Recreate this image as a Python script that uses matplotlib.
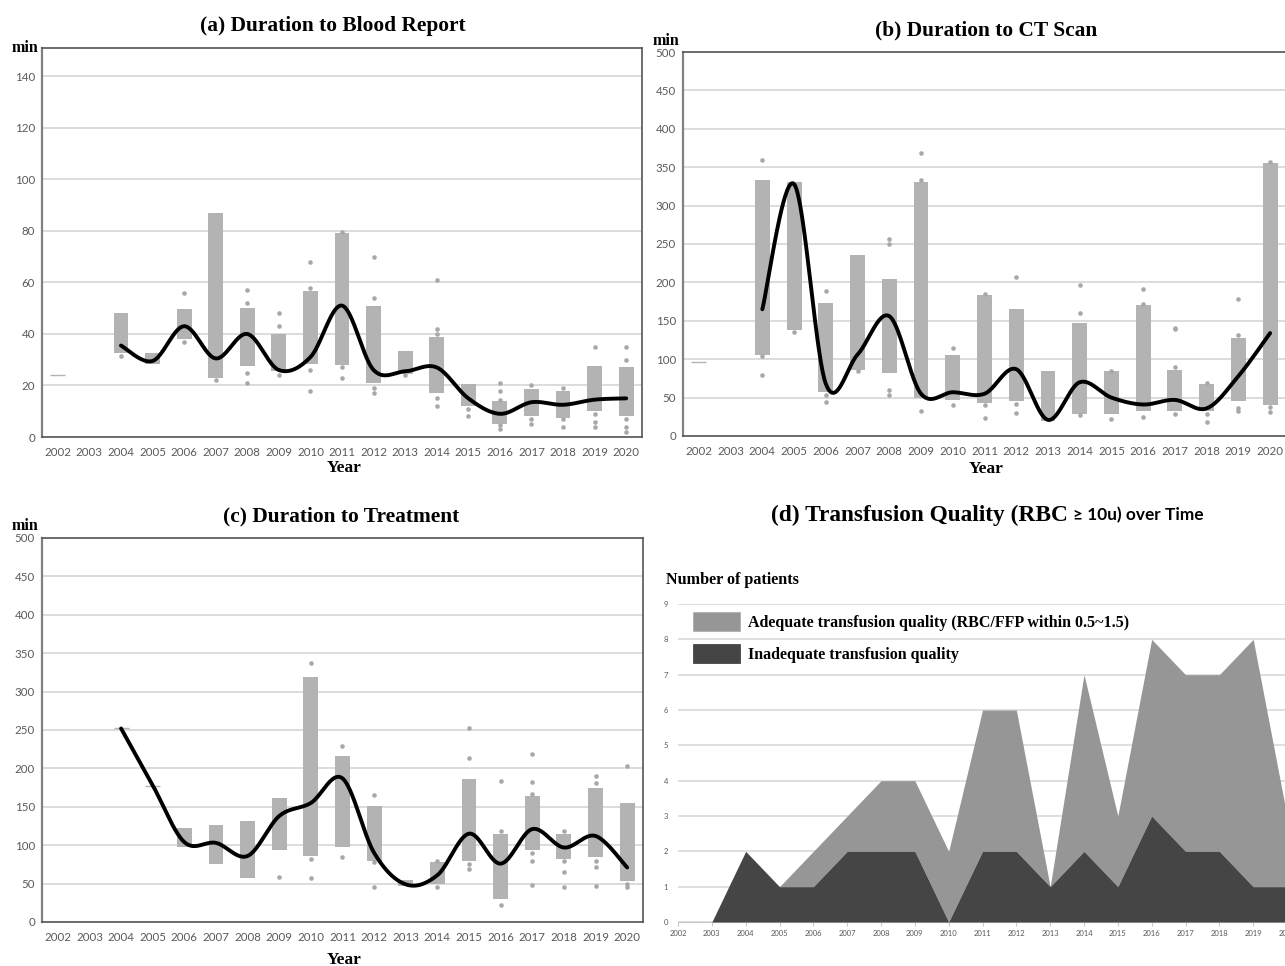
import numpy as np
import matplotlib
matplotlib.use("Agg")
import matplotlib.pyplot as plt
from matplotlib.patches import Patch

W, H = 1285, 966
SERIF = "Liberation Serif"
SANS = "Lato"
BOX = "#b3b3b3"
DOT = "#a8a8a8"
GRID = "#d9d9d9"
TICK = "#595959"

years = list(range(2002, 2021))
line_years = list(range(2004, 2021))

# (a) Duration to Blood Report
a_q1 = [24, None, 32.5, 28.5, 38, 23, 27.5, 25.5, 28.5, 28, 21, 24.5, 17, 12, 5, 8, 7.5, 10, 8]
a_q3 = [24, None, 48, 32.5, 49.5, 87, 50, 40, 56.5, 79, 51, 33.5, 39, 20.5, 14, 18.5, 18, 27.5, 27]
a_out = [[], [], [31.5], [], [56, 37], [22], [57, 52, 25, 21], [48, 43, 24], [68, 58, 26, 18],
         [79.5, 27, 23], [70, 54, 19, 17], [24], [61, 42, 40, 15, 12], [11, 8],
         [21, 18, 14.5, 4.5, 3], [20, 7, 5], [19, 7, 4], [35, 9, 6, 4], [35, 30, 7, 4, 2]]
a_line = [35.5, 29.5, 43, 30.5, 40, 26, 31, 51, 26, 25.5, 27, 15, 9, 13.5, 12.5, 14.5, 15]

# (b) Duration to CT Scan
b_q1 = [96, None, 106, 138, 57, 86, 82, 50, 47, 43, 45, 20, 28, 28, 32, 33, 33, 45, 40]
b_q3 = [96, None, 333, 331, 173, 236, 205, 331, 106, 184, 166, 85, 147, 84, 170, 86, 68, 128, 355]
b_out = [[], [], [360, 104, 80], [136], [189, 54, 44], [85], [256, 250, 60, 53], [368, 333, 32],
         [115, 40], [185, 40, 24], [207, 42, 30], [], [196, 160, 27], [85, 22], [191, 172, 25],
         [140, 139, 90, 28], [69, 29, 18], [179, 131, 37, 32], [357, 38, 31]]
b_line = [165, 328, 68, 106, 156, 55, 57, 55, 87, 21, 70, 50, 41, 47, 36, 78, 134]

# (c) Duration to Treatment
c_q1 = [None, None, 252, 177, 98, 75, 57, 94, 86, 98, 80, 47, 50, 80, 30, 94, 82, 84, 54]
c_q3 = [None, None, 252, 177, 122, 126, 131, 161, 319, 216, 151, 55, 78, 186, 115, 164, 115, 175, 155]
c_out = [[], [], [], [], [], [], [], [58], [337, 82, 57], [229, 85], [166, 78, 45], [],
         [79, 45], [252, 213, 75, 69], [184, 119, 22], [219, 182, 167, 90, 80, 48],
         [119, 80, 65, 46], [190, 181, 80, 72, 47], [203, 50, 45]]
c_line = [252, 178, 104, 103, 86, 138, 155, 187, 90, 49, 61, 115, 76, 121, 97, 112, 71]

# (d) Transfusion quality
inadequate = [np.nan, 0, 2, 1, 1, 2, 2, 2, 0, 2, 2, 1, 2, 1, 3, 2, 2, 1, 1]
adequate = [np.nan, 0, 0, 0, 1, 1, 2, 2, 2, 4, 4, 0, 5, 2, 5, 5, 5, 7, 2]


def smooth(xs, ys, n=40):
    # bezier smoothing through the points, like a spreadsheet "smoothed line"
    pts = np.column_stack([xs, ys]).astype(float)
    segs = []
    for i in range(len(pts) - 1):
        p0 = pts[max(i - 1, 0)]
        p1 = pts[i]
        p2 = pts[i + 1]
        p3 = pts[min(i + 2, len(pts) - 1)]
        c1 = p1 + (p2 - p0) / 6
        c2 = p2 - (p3 - p1) / 6
        t = np.linspace(0, 1, n)[:, None]
        segs.append((1 - t) ** 3 * p1 + 3 * (1 - t) ** 2 * t * c1 + 3 * (1 - t) * t ** 2 * c2 + t ** 3 * p2)
    return np.vstack(segs)


def px_axes(fig, left, top, right, bottom):
    return fig.add_axes([left / W, 1 - bottom / H, (right - left) / W, (bottom - top) / H])


def box_panel(ax, q1, q3, outs, line, ymax, step):
    ax.set_xlim(2001.5, 2020.5)
    ax.set_ylim(0, ymax)
    ax.set_yticks(np.arange(0, ymax + 1, step))
    ax.set_xticks(years)
    ax.grid(axis="y", color=GRID, lw=1.3)
    ax.set_axisbelow(True)
    bw = 0.47
    for yr, lo, hi, pts in zip(years, q1, q3, outs):
        if lo is None:
            continue
        if hi - lo < 1e-9:
            ax.hlines(lo, yr - bw / 2, yr + bw / 2, color=BOX, lw=1)
        else:
            ax.bar(yr, hi - lo, bottom=lo, width=bw, color=BOX, zorder=2)
        if pts:
            ax.plot([yr] * len(pts), pts, "o", color=DOT, ms=3.3, mec="none", zorder=3)
    curve = smooth(line_years, line)
    ax.plot(curve[:, 0], curve[:, 1], color="black", lw=2.8, zorder=4, solid_capstyle="round")
    ax.tick_params(length=0, labelsize=8.3, colors=TICK, pad=7)
    ax.tick_params(axis="y", pad=5)
    for lab in ax.get_xticklabels() + ax.get_yticklabels():
        lab.set_fontfamily(SANS)
    for s in ax.spines.values():
        s.set_color("#555555")
        s.set_linewidth(1.2)
    ax.spines["left"].set_color("#808080")
    ax.spines["left"].set_linewidth(1.6)


fig = plt.figure(figsize=(W / 100, H / 100), dpi=100)
tfont = dict(family=SERIF, weight="bold")
TS = 15.4

# panel a
ax_a = px_axes(fig, 42, 48, 642, 437)
box_panel(ax_a, a_q1, a_q3, a_out, a_line, 151, 20)
ax_a.set_yticks(np.arange(0, 141, 20))
fig.text(333 / W, 1 - 26 / H, "(a) Duration to Blood Report", ha="center", va="center", fontsize=TS, **tfont)
fig.text(12 / W, 1 - 48 / H, "min", ha="left", va="center", fontsize=11.5, **tfont)
fig.text(344 / W, 1 - 468 / H, "Year", ha="center", va="center", fontsize=12.5, **tfont)

# panel b
ax_b = px_axes(fig, 683, 52, 1286, 436)
box_panel(ax_b, b_q1, b_q3, b_out, b_line, 500, 50)
fig.text(986 / W, 1 - 30 / H, "(b) Duration to CT Scan", ha="center", va="center", fontsize=TS, **tfont)
fig.text(653 / W, 1 - 41 / H, "min", ha="left", va="center", fontsize=11.5, **tfont)
fig.text(986 / W, 1 - 469 / H, "Year", ha="center", va="center", fontsize=12.5, **tfont)

# panel c
ax_c = px_axes(fig, 42, 538, 643, 922)
box_panel(ax_c, c_q1, c_q3, c_out, c_line, 500, 50)
fig.text(341 / W, 1 - 516 / H, "(c) Duration to Treatment", ha="center", va="center", fontsize=TS, **tfont)
fig.text(12 / W, 1 - 526 / H, "min", ha="left", va="center", fontsize=11.5, **tfont)
fig.text(344 / W, 1 - 960 / H, "Year", ha="center", va="center", fontsize=12.5, **tfont)

# panel d
ax_d = px_axes(fig, 678, 604, 1287, 922)
yrs = np.array(years, dtype=float)
inad = np.array(inadequate, dtype=float)
tot = inad + np.array(adequate, dtype=float)
ax_d.fill_between(yrs, 0, inad, color="#454545", lw=0, zorder=3)
ax_d.fill_between(yrs, inad, tot, color="#969696", lw=0, zorder=2)
ax_d.set_xlim(2002, 2020)
ax_d.set_ylim(0, 9)
ax_d.set_xticks(years)
ax_d.set_yticks(range(0, 10))
ax_d.grid(axis="y", color=GRID, lw=1.2)
ax_d.set_axisbelow(True)
for k in ["top", "right", "left"]:
    ax_d.spines[k].set_visible(False)
ax_d.spines["bottom"].set_color("#c8c8c8")
ax_d.tick_params(axis="x", length=3, color="#c8c8c8", labelsize=5.5, colors=TICK, pad=3)
ax_d.tick_params(axis="y", length=0, labelsize=5.5, colors=TICK, pad=7)
for lab in ax_d.get_xticklabels() + ax_d.get_yticklabels():
    lab.set_fontfamily(SANS)
leg = ax_d.legend(handles=[Patch(facecolor="#969696", edgecolor="#aaaaaa", lw=0.5,
                                 label="Adequate transfusion quality (RBC/FFP within 0.5~1.5)"),
                           Patch(facecolor="#454545", edgecolor="#333333", lw=0.5,
                                 label="Inadequate transfusion quality")],
                  loc="upper left", bbox_to_anchor=(15 / 609, 1 - 8 / 318), frameon=False,
                  prop=dict(family=SERIF, weight="bold", size=11.5),
                  handlelength=2.95, handleheight=1.45, handletextpad=0.5, labelspacing=0.8,
                  borderaxespad=0, borderpad=0)
fig.text(666 / W, 1 - 580 / H, "Number of patients", ha="left", va="center", fontsize=11.6, **tfont)
fig.text(1068 / W, 1 - 515 / H, "(d) Transfusion Quality (RBC", ha="right", va="center", fontsize=16.8, **tfont)
fig.text(1073 / W, 1 - 515 / H, "\u2265 10u) over Time", ha="left", va="center", fontsize=12.4,
         family=[SANS, "DejaVu Sans"], weight="bold")

fig.savefig("out.png", dpi=100)
